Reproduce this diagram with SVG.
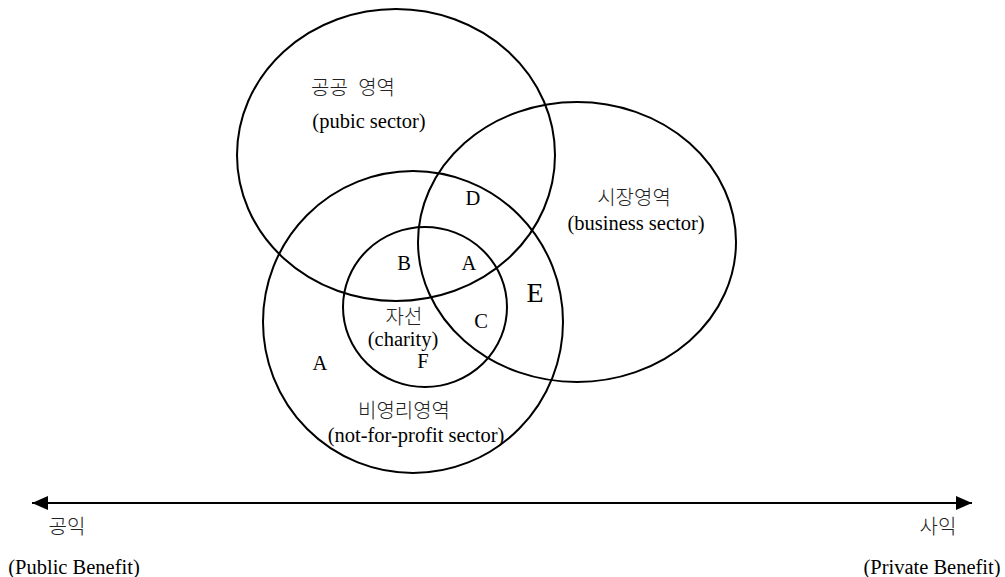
<svg xmlns="http://www.w3.org/2000/svg" width="1005" height="577" viewBox="0 0 1005 577">
<style>
.c{fill:none;stroke:#000;stroke-width:2}
.t{font-family:"Liberation Serif","Noto Sans CJK KR",serif;font-size:20.5px;fill:#000;text-anchor:middle}
.k{font-family:"Noto Sans CJK KR","Liberation Serif",sans-serif;font-size:20px;font-weight:300;fill:#222;text-anchor:middle}
</style>
<defs>
<marker id="ah" markerWidth="16" markerHeight="14" refX="16" refY="7" orient="auto-start-reverse" markerUnits="userSpaceOnUse">
<path d="M0,0 L16,7 L0,14 Z" fill="#000"/>
</marker>
</defs>
<rect width="1005" height="577" fill="#fff"/>
<g id="public">
<ellipse class="c" cx="396" cy="155" rx="159" ry="146"/>
<text class="k" x="353" y="95" style="word-spacing:6px">공공 영역</text>
<text class="t" x="369" y="128">(pubic sector)</text>
</g>
<g id="business">
<ellipse class="c" cx="577" cy="242" rx="159" ry="140"/>
<text class="k" x="634" y="205">시장영역</text>
<text class="t" x="636" y="230">(business sector)</text>
</g>
<g id="nonprofit">
<ellipse class="c" cx="413" cy="322" rx="150" ry="151"/>
<text class="k" x="404" y="418">비영리영역</text>
<text class="t" x="416" y="442">(not-for-profit sector)</text>
</g>
<g id="charity">
<ellipse class="c" cx="425" cy="307" rx="82" ry="80"/>
<text class="k" x="404" y="324">자선</text>
<text class="t" x="403" y="346">(charity)</text>
</g>
<g id="labels">
<text class="t" x="473" y="205">D</text>
<text class="t" x="404" y="270">B</text>
<text class="t" x="469" y="270">A</text>
<text class="t" x="535" y="302" style="font-size:28px">E</text>
<text class="t" x="481" y="328">C</text>
<text class="t" x="423" y="368">F</text>
<text class="t" x="320" y="370">A</text>
</g>
<g id="connectors">
<line x1="32" y1="503" x2="972" y2="503" stroke="#000" stroke-width="2" marker-start="url(#ah)" marker-end="url(#ah)"/>
</g>
<g id="axis-left">
<text class="k" x="67" y="534">공익</text>
<text class="t" x="74" y="574">(Public Benefit)</text>
</g>
<g id="axis-right">
<text class="k" x="938" y="534">사익</text>
<text class="t" x="932" y="574">(Private Benefit)</text>
</g>
</svg>
